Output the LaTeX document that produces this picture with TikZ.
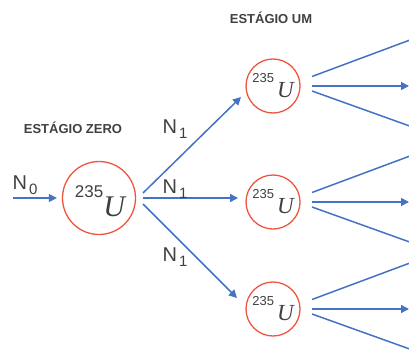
\documentclass[tikz,border=0pt]{standalone}
\usepackage{fontspec}
\setmainfont{Liberation Sans}
\newfontfamily\serifit[ItalicFont={Liberation Serif Italic}]{Liberation Serif}
\usetikzlibrary{arrows.meta,calc}
\definecolor{arrowblue}{RGB}{68,114,196}
\definecolor{ringred}{RGB}{238,84,62}
\definecolor{txtgray}{RGB}{64,64,64}
\newcommand{\uranium}[4]{\raisebox{#3}{\fontsize{#1}{#1}\selectfont 235}\hspace{#4}{\fontsize{#2}{#2}\selectfont\serifit\itshape U}}
\newcommand{\nlabel}[1]{{\fontsize{20}{20}\selectfont N}\hspace{2pt}\raisebox{-5pt}{\fontsize{15}{15}\selectfont #1}}
\begin{document}
\begin{tikzpicture}[x=1pt,y=-1pt,
  ring/.style={circle, draw=ringred, line width=1.3pt, inner sep=0pt, text=txtgray},
  bigring/.style={ring, minimum size=73pt},
  smallring/.style={ring, minimum size=54pt},
  flow/.style={draw=arrowblue, line width=1.5pt, -{Triangle[length=8pt,width=8pt]}},
  stagetitle/.style={font=\bfseries\fontsize{13}{13}\selectfont, text=txtgray, inner sep=0pt},
  nlab/.style={text=txtgray, inner sep=0pt}
]
\useasboundingbox (0,0) rectangle (409,351);
\clip (0,0) rectangle (409,351);

% titles
\node[stagetitle] (t0) at (73,128) {ESTÁGIO ZERO};
\node[stagetitle] (t1) at (271,17.5) {ESTÁGIO UM};

% circles
\node[bigring] (u0) at (99,198) {};
\node[text=txtgray, inner sep=0pt] (u0t) at (100,201) {\uranium{17}{30}{19pt}{0pt}};
\node[smallring] (u1) at (273,86) {\uranium{13}{23}{15pt}{3pt}};
\node[smallring] (u2) at (273,202) {\uranium{13}{23}{15pt}{3pt}};
\node[smallring] (u3) at (273,309) {\uranium{13}{23}{15pt}{3pt}};

% input
\coordinate (in) at (13,198);
\node[nlab] (n0) at (25,185) {\nlabel{0}};
\draw[flow, shorten >=5pt] (in) -- (u0.west);

% stage zero outputs
\coordinate (a1) at (143,193);
\coordinate (a2) at (143,198);
\coordinate (a3) at (143,204);
\coordinate (b1) at (241,97);
\coordinate (b2) at (238,198);
\coordinate (b3) at (237,298);
\draw[flow] (a1) -- (b1);
\draw[flow] (a2) -- (b2);
\draw[flow] (a3) -- (b3);
\node[nlab] (n1) at (175,129) {\nlabel{1}};
\node[nlab] (n2) at (175,189) {\nlabel{1}};
\node[nlab] (n3) at (175,257) {\nlabel{1}};

% stage one outputs
\foreach \u in {u1,u2,u3}{
  \coordinate (\u s1) at ($(\u.center)+(39,-9.5)$);
  \coordinate (\u s2) at ($(\u.center)+(39,0)$);
  \coordinate (\u s3) at ($(\u.center)+(39,5)$);
  \coordinate (\u e1) at ($(\u.center)+(145,-49)$);
  \coordinate (\u e2) at ($(\u.center)+(136,0)$);
  \coordinate (\u e3) at ($(\u.center)+(145,43)$);
  \draw[flow] (\u s1) -- (\u e1);
  \draw[flow] (\u s2) -- (\u e2);
  \draw[flow] (\u s3) -- (\u e3);
}
\end{tikzpicture}
\end{document}
